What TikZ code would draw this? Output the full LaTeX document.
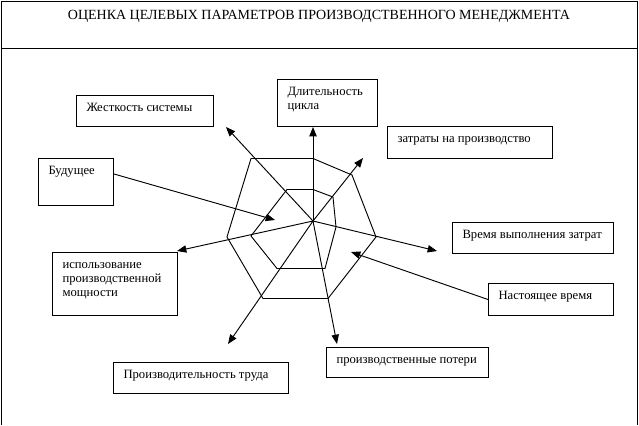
\documentclass[tikz,border=0pt]{standalone}
\usepackage{fontspec}
\setmainfont{Liberation Serif}
\usetikzlibrary{arrows.meta,positioning,calc}
\newlength{\px}\setlength{\px}{0.75pt}
\newcommand{\boxtext}[3]{\begin{minipage}[t][#2\px][t]{#1\px}\raggedright\baselineskip=10.5pt\rule{0pt}{12pt}#3\end{minipage}}
\begin{document}
\begin{tikzpicture}[
  x=0.75pt, y=-0.75pt,
  box/.style={draw, line width=0.75pt, anchor=north west, inner xsep=10\px, inner ysep=0pt, font=\fontsize{9.5}{10.5}\selectfont},
  arr/.style={-{Triangle[length=7pt, width=5.5pt]}, line width=0.7pt},
  web/.style={line width=0.7pt, line join=miter}
]
  \useasboundingbox (0,0) rectangle (639,425);

  % frame and title
  \draw[line width=0.75pt] (1.5,425) -- (1.5,1.5) -- (637,1.5) -- (637,425);
  \draw[line width=0.75pt] (1.5,48) -- (637,48);
  \node[font=\fontsize{10.5}{12}\selectfont] (title) at (319,16) {ОЦЕНКА ЦЕЛЕВЫХ ПАРАМЕТРОВ ПРОИЗВОДСТВЕННОГО МЕНЕДЖМЕНТА};

  % radar web
  \draw[web] (251,158.5) -- (313,158.5) -- (352,175) -- (376,237) -- (328,298.5) -- (263,298.5) -- (227,237) -- cycle;
  \draw[web] (287,189.5) -- (313,189.5) -- (333,197) -- (336,227) -- (325,268.5) -- (277,268.5) -- (251,236) -- cycle;

  % parameter boxes
  \node[box] (dur)  at (277,79)  {\boxtext{80}{47}{Длительность\\цикла}};
  \node[box] (rig)  at (76,95)   {\boxtext{117}{31}{Жесткость системы}};
  \node[box] (fut)  at (38,158)  {\boxtext{55}{47}{Будущее}};
  \node[box] (cost) at (387,126) {\boxtext{145}{32}{затраты на производство}};
  \node[box] (time) at (452,222) {\boxtext{141}{31}{Время выполнения затрат}};
  \node[box] (now)  at (488,283) {\boxtext{105}{32}{Настоящее время}};
  \node[box] (cap)  at (52,252)  {\boxtext{105}{63}{использование\\производственной\\мощности}};
  \node[box] (lab)  at (113,362) {\boxtext{155}{31}{Производительность труда}};
  \node[box] (loss) at (326,347) {\boxtext{142}{30}{производственные потери}};

  % axes
  \coordinate (c) at (313,221);
  \coordinate (tcost) at (363,158);
  \coordinate (trig)  at (226,127);
  \coordinate (tcap)  at (177,251);
  \coordinate (ttime) at (437,251);
  \coordinate (tlab)  at (228,344);
  \coordinate (tloss) at (337,344);
  \coordinate (tfut)  at (275,220);
  \coordinate (tnow)  at (351,252);

  \draw[arr] (c) -- (c |- dur.south);
  \draw[arr] (c) -- (tcost);
  \draw[arr] (c) -- (trig);
  \draw[arr] (c) -- (tcap);
  \draw[arr] (c) -- (ttime);
  \draw[arr] (c) -- (tlab);
  \draw[arr] (c) -- (tloss);
  \draw[arr] ([yshift=6pt]fut.east) -- (tfut);
  \draw[arr] (now.west) -- (tnow);
\end{tikzpicture}
\end{document}
